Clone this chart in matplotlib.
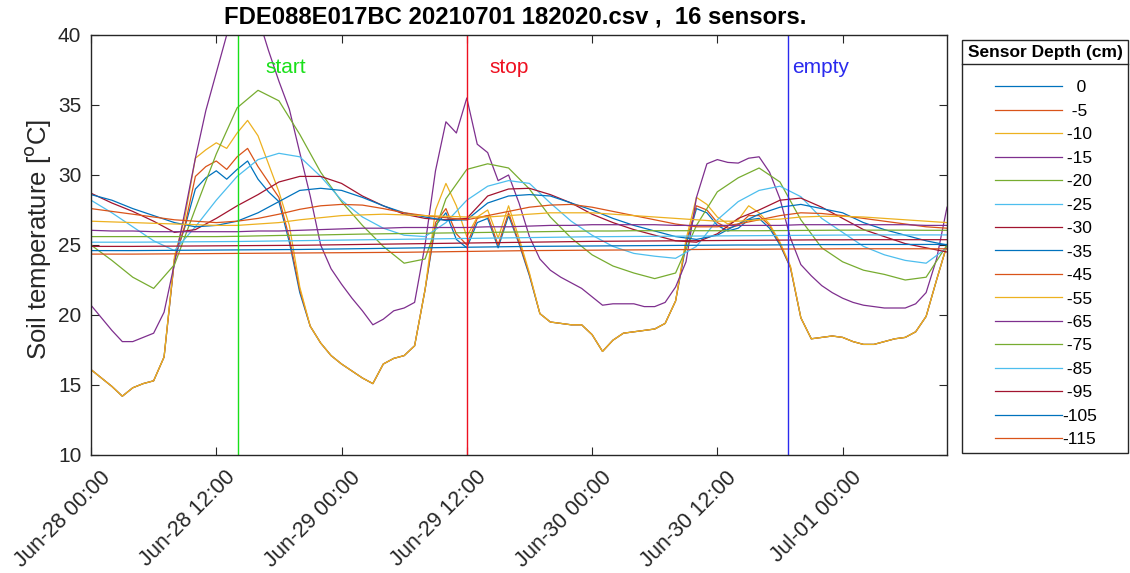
import matplotlib
matplotlib.use("Agg")
import matplotlib.pyplot as plt
import matplotlib.dates as mdates
from matplotlib.patches import Rectangle
from matplotlib.lines import Line2D
from matplotlib.transforms import ScaledTranslation
from datetime import datetime, timedelta

plt.rcParams['font.family'] = ['Liberation Sans', 'DejaVu Sans']

# ---------------- data ----------------
title_text = "FDE088E017BC 20210701 182020.csv ,  16 sensors."
start_time = datetime(2021, 6, 28, 0, 0)
x_end_hours = 82

depths = [0, -5, -10, -15, -20, -25, -30, -35, -45, -55, -65, -75, -85, -95, -105, -115]

# hourly samples (shallow sensors)
hours_1h = list(range(0, 83))
t_0 = [16.1, 15.5, 14.9, 14.2, 14.8, 15.1, 15.3, 17.0, 24.0, 26.3,
       29.0, 29.8, 30.3, 29.7, 30.4, 31.0, 29.7, 28.8, 28.1, 25.2,
       21.6, 19.2, 18.0, 17.1, 16.5, 16.0, 15.5, 15.1, 16.5, 16.9,
       17.1, 17.8, 21.8, 26.4, 27.3, 25.4, 24.8, 26.6, 26.9, 24.8,
       27.1, 25.1, 22.8, 20.1, 19.5, 19.4, 19.3, 19.3, 18.6, 17.4,
       18.2, 18.7, 18.8, 18.9, 19.0, 19.4, 21.0, 25.0, 27.6, 27.3,
       26.4, 26.0, 26.2, 26.8, 26.9, 26.2, 25.0, 23.4, 19.8, 18.3,
       18.4, 18.5, 18.4, 18.1, 17.9, 17.9, 18.1, 18.3, 18.4, 18.8,
       19.9, 22.5, 25.0]
t_5 = [16.1, 15.5, 14.9, 14.2, 14.8, 15.1, 15.3, 17.0, 24.0, 26.4,
       29.9, 30.6, 31.0, 30.4, 31.3, 31.9, 30.6, 29.5, 28.4, 25.5,
       21.8, 19.2, 18.0, 17.1, 16.5, 16.0, 15.5, 15.1, 16.5, 16.9,
       17.1, 17.8, 21.8, 26.6, 27.6, 25.8, 25.0, 26.9, 27.1, 25.0,
       27.3, 25.2, 22.9, 20.1, 19.5, 19.4, 19.3, 19.3, 18.6, 17.4,
       18.2, 18.7, 18.8, 18.9, 19.0, 19.4, 21.0, 25.2, 27.8, 27.5,
       26.6, 26.2, 26.4, 27.1, 27.1, 26.4, 25.1, 23.4, 19.8, 18.3,
       18.4, 18.5, 18.4, 18.1, 17.9, 17.9, 18.1, 18.3, 18.4, 18.8,
       19.9, 22.5, 25.0]
t_10 = [16.1, 15.5, 14.9, 14.2, 14.8, 15.1, 15.3, 17.0, 24.2, 27.0,
        31.2, 31.8, 32.3, 31.9, 33.0, 33.9, 32.8, 30.8, 28.8, 26.4,
        22.0, 19.2, 18.0, 17.1, 16.5, 16.0, 15.5, 15.1, 16.5, 16.9,
        17.1, 17.8, 21.8, 27.5, 29.4, 27.8, 25.6, 27.0, 27.5, 25.5,
        27.8, 25.5, 23.0, 20.1, 19.5, 19.4, 19.3, 19.3, 18.6, 17.4,
        18.2, 18.7, 18.8, 18.9, 19.0, 19.4, 21.0, 25.4, 28.4, 27.9,
        27.0, 26.5, 26.8, 27.8, 27.3, 26.5, 25.2, 23.5, 19.8, 18.3,
        18.4, 18.5, 18.4, 18.1, 17.9, 17.9, 18.1, 18.3, 18.4, 18.8,
        19.9, 22.5, 25.0]
t_15 = [20.7, 19.8, 18.9, 18.1, 18.1, 18.4, 18.7, 20.2, 23.7, 27.4,
        31.2, 34.6, 37.3, 40.0, 41.8, 42.5, 41.3, 38.9, 36.7, 34.7,
        31.6, 28.5, 25.0, 23.3, 22.2, 21.2, 20.3, 19.3, 19.7, 20.3,
        20.5, 20.9, 25.0, 30.3, 33.8, 33.0, 35.5, 32.2, 31.6, 29.6,
        30.0, 28.0, 25.6, 24.0, 23.2, 22.7, 22.3, 21.9, 21.3, 20.7,
        20.8, 20.8, 20.8, 20.6, 20.6, 20.9, 22.0, 23.8, 28.4, 30.8,
        31.1, 30.9, 30.85, 31.2, 31.3, 30.2, 28.3, 25.5, 23.6, 22.8,
        22.1, 21.6, 21.2, 20.9, 20.7, 20.6, 20.5, 20.5, 20.5, 20.8,
        21.6, 24.0, 27.7]

# two-hourly samples (deeper sensors)
hours_2h = list(range(0, 83, 2))
t_20 = [25.0, 23.9, 22.7, 21.9, 23.6, 27.6, 31.5, 34.8, 36.05, 35.3,
        32.9, 30.2, 28.1, 26.4, 24.9, 23.7, 24.0, 28.3, 30.4, 30.8,
        30.5, 29.0, 27.0, 25.5, 24.3, 23.5, 23.0, 22.6, 23.0, 26.4,
        28.8, 29.8, 30.5, 29.5, 26.8, 24.8, 23.8, 23.2, 22.9, 22.5,
        22.7, 25.0]
t_25 = [28.2, 27.3, 26.3, 25.3, 24.6, 26.3, 28.2, 29.9, 31.1, 31.55,
        31.3, 29.9, 28.2, 27.0, 26.2, 25.7, 25.6, 26.6, 28.2, 29.2,
        29.6, 29.4, 28.0, 26.7, 25.7, 24.9, 24.4, 24.2, 24.05, 24.9,
        26.8, 28.1, 28.9, 29.2, 28.45, 26.9, 25.9, 24.9, 24.3, 23.9,
        23.7, 24.8]
t_30 = [28.7, 28.0, 27.4, 26.7, 25.9, 26.1, 26.9, 27.8, 28.6, 29.5,
        29.9, 29.9, 29.4, 28.5, 27.8, 27.2, 26.9, 26.8, 26.9, 28.5,
        29.0, 29.05, 28.6, 28.0, 27.2, 26.6, 26.1, 25.7, 25.3, 25.2,
        25.8, 26.9, 27.5, 28.2, 28.35, 27.7, 26.9, 26.1, 25.6, 25.1,
        24.8, 24.5]
t_35 = [28.6, 28.2, 27.6, 27.1, 26.6, 26.3, 26.4, 26.7, 27.3, 28.1,
        28.9, 29.05, 28.9, 28.4, 27.8, 27.3, 27.0, 26.75, 26.8, 28.0,
        28.5, 28.6, 28.5, 28.0, 27.5, 26.9, 26.4, 26.0, 25.6, 25.4,
        25.7, 26.5, 27.2, 27.7, 27.9, 27.6, 27.3, 26.6, 26.1, 25.7,
        25.3, 25.0]
t_45 = [27.6, 27.4, 27.2, 27.0, 26.8, 26.7, 26.6, 26.7, 26.9, 27.2,
        27.55, 27.8, 27.9, 27.85, 27.6, 27.3, 27.1, 26.95, 26.8, 27.1,
        27.4, 27.7, 27.85, 27.9, 27.7, 27.4, 27.1, 26.8, 26.5, 26.3,
        26.3, 26.5, 26.8, 27.1, 27.3, 27.25, 27.1, 26.9, 26.7, 26.5,
        26.3, 26.2]
t_55 = [26.7, 26.65, 26.6, 26.55, 26.5, 26.45, 26.4, 26.4, 26.5, 26.6,
        26.8, 26.95, 27.1, 27.15, 27.2, 27.15, 27.1, 27.05, 27.0, 27.0,
        27.1, 27.2, 27.3, 27.3, 27.3, 27.2, 27.1, 27.0, 26.9, 26.8,
        26.7, 26.7, 26.8, 26.85, 27.0, 27.05, 27.05, 27.0, 26.9, 26.8,
        26.7, 26.6]
t_65 = [26.05, 26.0, 26.0, 25.95, 25.95, 25.95, 25.95, 25.95, 26.0, 26.0,
        26.05, 26.1, 26.15, 26.2, 26.2, 26.25, 26.25, 26.25, 26.25, 26.3,
        26.3, 26.35, 26.4, 26.4, 26.45, 26.45, 26.45, 26.45, 26.4, 26.4,
        26.4, 26.4, 26.4, 26.4, 26.45, 26.45, 26.45, 26.45, 26.45, 26.45,
        26.4, 26.4]
t_75 = [25.6, 25.6, 25.6, 25.6, 25.6, 25.6, 25.6, 25.62, 25.65, 25.68,
        25.7, 25.72, 25.75, 25.78, 25.8, 25.82, 25.84, 25.86, 25.88, 25.9,
        25.92, 25.94, 25.96, 25.98, 26.0, 26.0, 26.02, 26.02, 26.02, 26.02,
        26.02, 26.02, 26.02, 26.03, 26.04, 26.05, 26.06, 26.06, 26.06, 26.06,
        26.05, 26.05]
t_85 = [25.2, 25.2, 25.2, 25.21, 25.22, 25.23, 25.24, 25.25, 25.27, 25.29,
        25.31, 25.33, 25.35, 25.37, 25.39, 25.41, 25.43, 25.45, 25.47, 25.49,
        25.51, 25.53, 25.55, 25.57, 25.59, 25.6, 25.61, 25.62, 25.63, 25.64,
        25.65, 25.66, 25.67, 25.68, 25.69, 25.7, 25.71, 25.72, 25.72, 25.72,
        25.72, 25.72]
t_95 = [24.9, 24.9, 24.9, 24.91, 24.92, 24.93, 24.94, 24.95, 24.96, 24.97,
        24.98, 25.0, 25.02, 25.04, 25.06, 25.08, 25.1, 25.12, 25.14, 25.16,
        25.18, 25.2, 25.22, 25.24, 25.26, 25.27, 25.28, 25.29, 25.3, 25.31,
        25.32, 25.33, 25.34, 25.35, 25.36, 25.37, 25.37, 25.38, 25.38, 25.38,
        25.38, 25.38]
t_105 = [24.6, 24.6, 24.6, 24.61, 24.62, 24.63, 24.64, 24.65, 24.66, 24.67,
         24.68, 24.7, 24.72, 24.74, 24.76, 24.78, 24.8, 24.82, 24.84, 24.86,
         24.88, 24.9, 24.91, 24.92, 24.93, 24.94, 24.95, 24.96, 24.97, 24.98,
         24.99, 25.0, 25.0, 25.01, 25.02, 25.03, 25.03, 25.04, 25.04, 25.04,
         25.04, 25.04]
t_115 = [24.35, 24.35, 24.35, 24.36, 24.37, 24.38, 24.39, 24.4, 24.41, 24.42,
         24.43, 24.44, 24.45, 24.46, 24.47, 24.48, 24.5, 24.52, 24.54, 24.56,
         24.58, 24.6, 24.61, 24.62, 24.63, 24.64, 24.65, 24.66, 24.67, 24.68,
         24.69, 24.7, 24.7, 24.71, 24.72, 24.72, 24.73, 24.73, 24.73, 24.73,
         24.73, 24.73]

series = [t_0, t_5, t_10, t_15, t_20, t_25, t_30, t_35,
          t_45, t_55, t_65, t_75, t_85, t_95, t_105, t_115]
series_hours = [hours_1h] * 4 + [hours_2h] * 12

event_labels = ['start', 'stop', 'empty']
event_hours = [14.1, 36.0, 66.8]
event_colors = ['#19e019', '#ee1020', '#2a2aee']
event_text_hours = [16.7, 38.2, 67.2]
event_text_temp = 37.7

matlab_colors = ['#0072BD', '#D95319', '#EDB120', '#7E2F8E',
                 '#77AC30', '#4DBEEE', '#A2142F']

# ---------------- figure ----------------
W, H = 1130, 573
fig = plt.figure(figsize=(W / 100, H / 100), dpi=100)
ax = fig.add_axes([91 / W, (H - 455) / H, 856 / W, 420 / H])

def to_time(hours):
    return [start_time + timedelta(hours=h) for h in hours]

lines = []
for i, (hrs, vals) in enumerate(zip(series_hours, series)):
    ln, = ax.plot(to_time(hrs), vals, color=matlab_colors[i % 7], lw=0.9)
    lines.append(ln)

for lab, eh, col, th in zip(event_labels, event_hours, event_colors, event_text_hours):
    ax.axvline(start_time + timedelta(hours=eh), color=col, lw=1.0)
    ax.text(start_time + timedelta(hours=th), event_text_temp, lab, color=col,
            fontsize=15, ha='left', va='center')

ax.set_xlim(start_time, start_time + timedelta(hours=x_end_hours))
ax.set_ylim(10, 40)
ax.set_yticks([10, 15, 20, 25, 30, 35, 40])
ax.xaxis.set_major_locator(mdates.HourLocator(byhour=[0, 12]))
ax.xaxis.set_major_formatter(mdates.DateFormatter('%b-%d %H:%M'))

axis_col = '#262626'
for sp in ax.spines.values():
    sp.set_color(axis_col)
    sp.set_linewidth(1.0)
ax.tick_params(direction='in', length=6, width=0.8, top=True, right=True,
               colors=axis_col, labelsize=15)
ax.tick_params(axis='x', labelsize=15.5, pad=14)
ax.tick_params(axis='y', pad=7)

offset = ScaledTranslation(16 / 100, 0, fig.dpi_scale_trans)
for lbl in ax.get_xticklabels():
    lbl.set_rotation(45)
    lbl.set_ha('right')
    lbl.set_va('center')
    lbl.set_rotation_mode('anchor')
    lbl.set_transform(lbl.get_transform() + offset)

ax.set_ylabel('Soil temperature [$^{\\rm o}$C]', fontsize=18.5, color=axis_col)
ax.yaxis.set_label_coords((53 - 91) / 856, 0.514)

fig.text(515 / W, 1 - 17 / H, title_text, fontsize=17.2, fontweight='bold',
         ha='center', va='center', color='black')

# legend
labels = [f'{d:4d}' for d in depths]
leg = ax.legend(lines, labels, loc='upper left',
                bbox_to_anchor=(995 / W, 1 - 80 / H), bbox_transform=fig.transFigure,
                frameon=False, fontsize=12.5, handlelength=3.85, handletextpad=0.0,
                labelspacing=0.48, borderpad=0, borderaxespad=0)
fig.add_artist(Rectangle((962 / W, 1 - 453 / H), 166 / W, 413 / H,
                         transform=fig.transFigure, fill=False,
                         edgecolor=axis_col, lw=1.0))
fig.add_artist(Line2D([962 / W, 1128 / W], [1 - 64 / H, 1 - 64 / H],
                      transform=fig.transFigure, color=axis_col, lw=1.0))
fig.text(1045 / W, 1 - 53 / H, 'Sensor Depth (cm)', fontsize=12.5,
         fontweight='bold', ha='center', va='center')

fig.savefig('out.png', dpi=100)
